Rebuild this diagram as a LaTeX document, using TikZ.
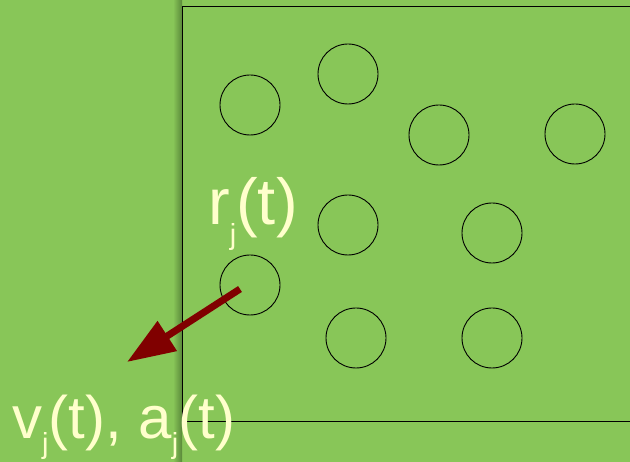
\documentclass[tikz,border=0pt]{standalone}
\usepackage{fontspec}
\usepackage{tikz}
\usetikzlibrary{arrows.meta}
\newfontfamily\labelfont{Liberation Sans}
\definecolor{bgcol}{RGB}{136,198,88}
\definecolor{shadecol}{RGB}{90,136,58}
\definecolor{labelcol}{RGB}{255,255,204}
\definecolor{arrowcol}{RGB}{128,0,0}
\newcommand{\subj}[1]{\raisebox{-#1}{\fontsize{29}{32}\selectfont j}}
\tikzset{
  particle/.style={draw=black, line width=0.9pt, circle, minimum size=60pt, inner sep=0pt},
  label text/.style={text=labelcol, font=\labelfont\fontsize{60}{72}\selectfont, anchor=base west, inner sep=0pt}
}

\begin{document}
\begin{tikzpicture}[x=1pt,y=-1pt]
  \clip (0,0) rectangle (630,462);
  \fill[bgcol] (0,0) rectangle (630,462);
  % shadow along the wall
  \shade[left color=bgcol, right color=shadecol] (173,0) rectangle (182,462);
  \draw[line width=1pt] (182,7) rectangle (640,422);
  % particles
  \node[particle] (p1) at (250,105) {};
  \node[particle] (p2) at (348,74) {};
  \node[particle] (p3) at (439,135) {};
  \node[particle] (p4) at (575,134) {};
  \node[particle] (p5) at (348,225) {};
  \node[particle] (p6) at (492,233) {};
  \node[particle] (p7) at (250,285) {};
  \node[particle] (p8) at (356,338) {};
  \node[particle] (p9) at (492,338) {};
  % velocity arrow
  \coordinate (tail) at (240,289);
  \coordinate (tip) at (127,362);
  \draw[arrowcol, line width=7pt, -{Triangle[length=48pt,width=34pt]}] (tail) -- (tip);
  \node[label text, font=\labelfont\fontsize{65}{78}\selectfont] (rlab) at (208,225) {r\subj{20pt}(t)};
  \node[label text] (valab) at (12,439) {v\subj{15pt}(t), a\subj{15pt}(t)};
\end{tikzpicture}
\end{document}
